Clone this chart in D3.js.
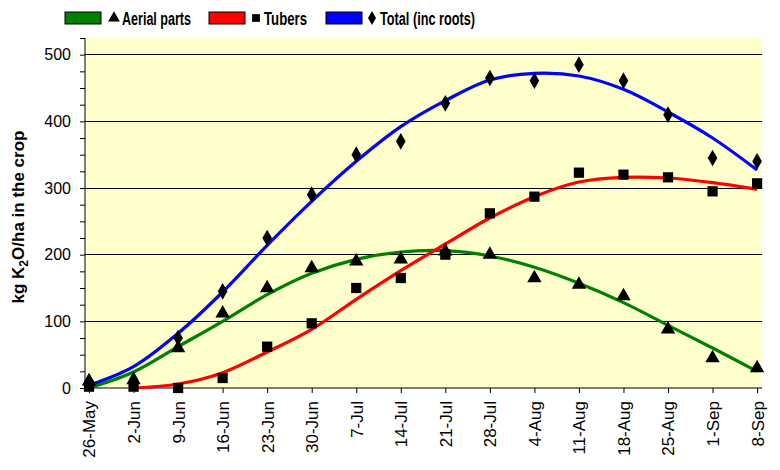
<!DOCTYPE html>
<html><head><meta charset="utf-8">
<script src="https://cdn.jsdelivr.net/npm/d3@7"></script>
<style>body{margin:0;background:#fff;} text{font-family:"Liberation Sans",Arial,sans-serif;}</style>
</head><body><svg id="c" width="780" height="470"></svg>
<script>
const categories = ["26-May","2-Jun","9-Jun","16-Jun","23-Jun","30-Jun","7-Jul","14-Jul","21-Jul","28-Jul","4-Aug","11-Aug","18-Aug","25-Aug","1-Sep","8-Sep"];
const aerialObs = [10,12,60,112,150,180,190,193,205,200,165,155,138,88,45,30];
const tubersObs = [2,2,0,15,62,97,150,165,200,262,287,323,320,316,295,307];
const totalObs  = [10,12,75,145,225,290,350,370,427,465,461,485,461,410,345,340];
// fitted trend lines, null = not drawn
const aerialFit = [0,24,62,100,140,172,193,204,206,198,181,157,128,94,60,25];
const tubersFit = [null,0,6,23,54,88,133,176,216,255,287,309,316,315,308,298];
const totalFit  = [4,32,82,144,214,280,340,392,431,462,472,468,448,414,375,327];
const yTicks = [0,100,200,300,400,500];

const svg = d3.select("#c");
const x = d3.scaleLinear().domain([-0.09, 15.11]).range([85, 762]);
const y = d3.scaleLinear().domain([0, 525]).range([388, 38]);

svg.append("rect").attr("x",85).attr("y",38).attr("width",677).attr("height",350).attr("fill","#FFFFCC");

// gridlines
svg.append("g").selectAll("line").data(yTicks.filter(d=>d>0)).join("line")
  .attr("x1",85).attr("x2",762).attr("y1",d=>y(d)).attr("y2",d=>y(d))
  .attr("stroke","#000").attr("stroke-width",1).attr("shape-rendering","crispEdges");

// y axis
const yAxis = d3.axisLeft(y).tickValues(d3.range(0,526,25)).tickSize(5)
  .tickFormat(d => d%100===0 ? d : "");
const gy = svg.append("g").attr("transform","translate(85,0)").call(yAxis);
gy.select(".domain").attr("d","M0,38V388").attr("stroke","#000");
gy.selectAll(".tick line").attr("stroke","#000");
gy.selectAll("text").attr("font-size",16).attr("fill","#000").attr("x",-14);

// x axis
const xAxis = d3.axisBottom(x).tickValues(d3.range(categories.length)).tickSize(5)
  .tickFormat(i => categories[i]);
const gx = svg.append("g").attr("transform","translate(0,388)").call(xAxis);
gx.select(".domain").attr("d","M85,0H762").attr("stroke","#000");
gx.selectAll(".tick line").attr("stroke","#000");
gx.selectAll("text").attr("font-size",17).attr("fill","#000")
  .attr("transform","rotate(-90)").attr("text-anchor","end")
  .attr("x",-13).attr("y",0).attr("dy","0.35em");

// y label
svg.append("text").attr("transform","translate(24,217) rotate(-90)")
  .attr("text-anchor","middle").attr("font-size",17).attr("font-weight","bold")
  .html('kg K<tspan font-size="12" dy="4">2</tspan><tspan dy="-4">O/ha in the crop</tspan>');

// lines
const line = d3.line().defined(d=>d[1]!==null).x(d=>x(d[0])).y(d=>y(d[1])).curve(d3.curveCatmullRom.alpha(0.5));
const series = [
  {fit: aerialFit, obs: aerialObs, color:"#008000", sym: d3.symbolTriangle, size: 90},
  {fit: tubersFit, obs: tubersObs, color:"#FF0000", sym: d3.symbolSquare, size: 105},
  {fit: totalFit, obs: totalObs, color:"#0000FF", sym: d3.symbolDiamond, size: 80}
];
series.forEach(s => {
  svg.append("path").attr("d", line(s.fit.map((v,i)=>[i,v])))
    .attr("fill","none").attr("stroke",s.color).attr("stroke-width",3.2);
});
series.forEach(s => {
  svg.append("g").selectAll("path").data(s.obs).join("path")
    .attr("transform",(v,i)=>`translate(${x(i)},${y(v)})`)
    .attr("d", d3.symbol().type(s.sym).size(s.size)).attr("fill","#000");
});

// legend
const legend = [
  {label:"Aerial parts", color:"#008000", sym:d3.symbolTriangle, size:60, rx:65, mx:114, tx:122, tl:69},
  {label:"Tubers", color:"#FF0000", sym:d3.symbolSquare, size:60, rx:209, mx:256, tx:264, tl:43},
  {label:"Total (inc roots)", color:"#0000FF", sym:d3.symbolDiamond, size:55, rx:326, mx:372, tx:380, tl:95}
];
legend.forEach(l => {
  svg.append("rect").attr("x",l.rx).attr("y",12).attr("width",36).attr("height",12)
    .attr("fill",l.color).attr("stroke","#000").attr("stroke-width",1);
  svg.append("path").attr("transform",`translate(${l.mx},18)`).attr("d",d3.symbol().type(l.sym).size(l.size)).attr("fill","#000");
  svg.append("text").attr("x",l.tx).attr("y",24.5).attr("font-size",17.5).attr("font-weight","bold")
    .attr("textLength",l.tl).attr("lengthAdjust","spacingAndGlyphs").text(l.label);
});
</script></body></html>
